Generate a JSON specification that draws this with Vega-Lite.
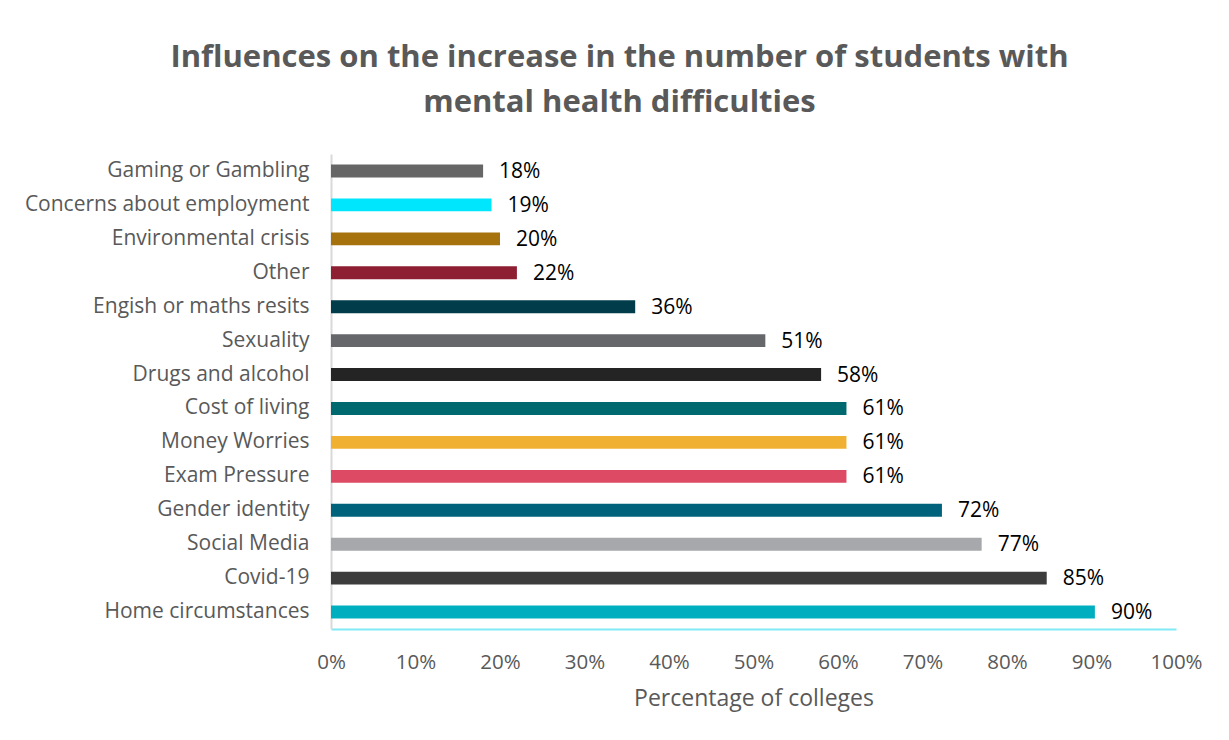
{
  "$schema": "https://vega.github.io/schema/vega-lite/v6.json",
  "width": 845,
  "height": 475,
  "autosize": {"type": "none"},
  "padding": {"left": 331, "top": 154, "right": 53, "bottom": 111},
  "background": "white",
  "title": {
    "text": ["Influences on the increase in the number of students with", "mental health difficulties"],
    "font": "Open Sans",
    "fontSize": 31,
    "fontWeight": "bold",
    "color": "#595959",
    "lineHeight": 45,
    "anchor": "middle",
    "dx": -134,
    "offset": 35
  },
  "data": {
    "values": [
      {"factor": "Gaming or Gambling", "pct": 0.18, "color": "#666666"},
      {"factor": "Concerns about employment", "pct": 0.19, "color": "#00E6FC"},
      {"factor": "Environmental crisis", "pct": 0.20, "color": "#A5720E"},
      {"factor": "Other", "pct": 0.22, "color": "#8E1E32"},
      {"factor": "Engish or maths resits", "pct": 0.36, "color": "#003C4A"},
      {"factor": "Sexuality", "pct": 0.514, "color": "#66676B"},
      {"factor": "Drugs and alcohol", "pct": 0.58, "color": "#242424"},
      {"factor": "Cost of living", "pct": 0.61, "color": "#006970"},
      {"factor": "Money Worries", "pct": 0.61, "color": "#F0B132"},
      {"factor": "Exam Pressure", "pct": 0.61, "color": "#DC4A64"},
      {"factor": "Gender identity", "pct": 0.723, "color": "#00637B"},
      {"factor": "Social Media", "pct": 0.77, "color": "#A7A8AB"},
      {"factor": "Covid-19", "pct": 0.847, "color": "#3C3C3C"},
      {"factor": "Home circumstances", "pct": 0.904, "color": "#00AFBF"}
    ]
  },
  "encoding": {
    "y": {
      "field": "factor",
      "type": "nominal",
      "sort": null,
      "title": null,
      "scale": {"paddingInner": 0.62, "paddingOuter": 0.31},
      "axis": {
        "labelFont": "Open Sans",
        "labelFontSize": 21,
        "labelColor": "#595959",
        "labelPadding": 22,
        "ticks": false,
        "domainColor": "#D9D9D9",
        "domainWidth": 2,
        "labelLimit": 400
      }
    },
    "x": {
      "field": "pct",
      "type": "quantitative",
      "title": "Percentage of colleges",
      "scale": {"domain": [0, 1], "nice": false},
      "axis": {
        "format": ".0%",
        "values": [0, 0.1, 0.2, 0.3, 0.4, 0.5, 0.6, 0.7, 0.8, 0.9, 1],
        "grid": false,
        "ticks": false,
        "labelFlush": false,
        "labelBound": false,
        "labelOverlap": false,
        "labelFont": "Open Sans",
        "labelFontSize": 20.5,
        "labelColor": "#595959",
        "labelPadding": 23,
        "domainColor": "#7FEAF5",
        "domainWidth": 2,
        "titleFont": "Open Sans",
        "titleFontSize": 23,
        "titleFontWeight": "normal",
        "titleColor": "#595959",
        "titlePadding": 15
      }
    }
  },
  "layer": [
    {
      "mark": {"type": "bar"},
      "encoding": {
        "color": {"field": "color", "type": "nominal", "scale": null, "legend": null}
      }
    },
    {
      "mark": {"type": "text", "align": "left", "baseline": "middle", "dx": 16, "dy": 1, "font": "Open Sans", "fontSize": 21, "color": "#000000"},
      "encoding": {
        "text": {"field": "pct", "type": "quantitative", "format": ".0%"}
      }
    }
  ],
  "config": {
    "view": {"stroke": null}
  }
}
